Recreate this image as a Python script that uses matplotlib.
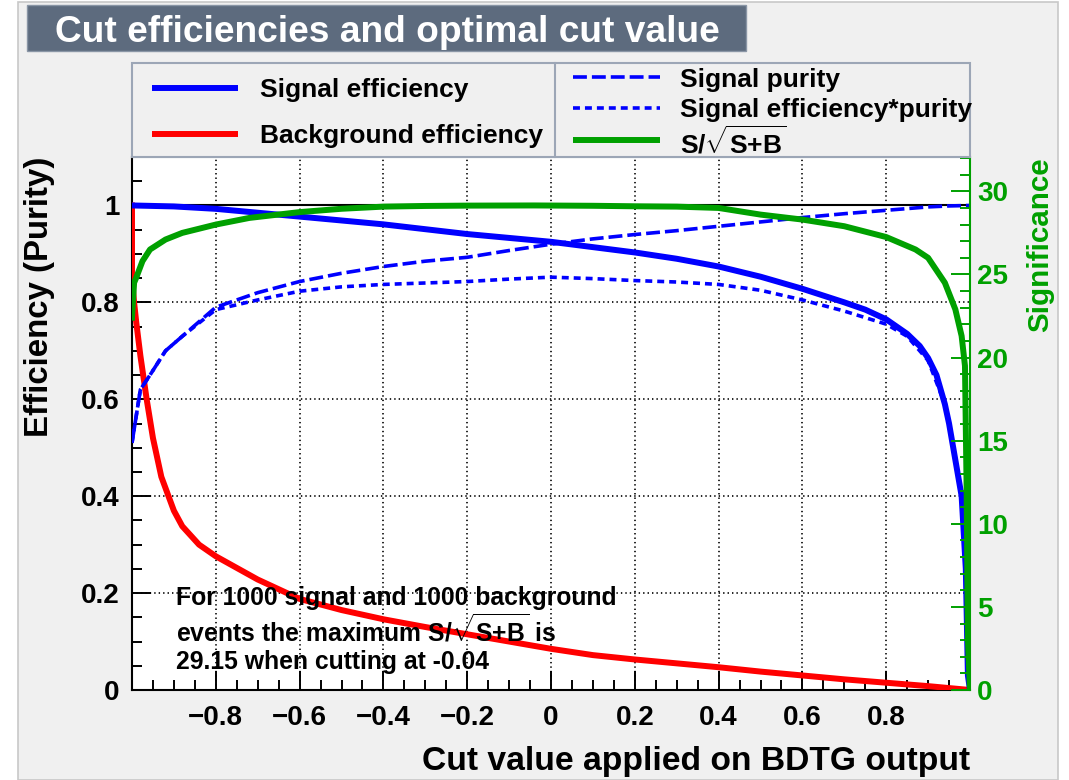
import matplotlib
matplotlib.use("Agg")
import matplotlib.pyplot as plt
from matplotlib.patches import Rectangle
from matplotlib.lines import Line2D
from matplotlib.ticker import MultipleLocator, FixedLocator

plt.rcParams['font.family'] = ['Liberation Sans', 'DejaVu Sans']
plt.rcParams['font.weight'] = 'bold'
plt.rcParams['mathtext.fontset'] = 'custom'
plt.rcParams['mathtext.rm'] = 'Liberation Sans:bold'
plt.rcParams['mathtext.bf'] = 'Liberation Sans:bold'
plt.rcParams['mathtext.it'] = 'Liberation Sans:bold'
plt.rcParams['lines.scale_dashes'] = False

# ---------------- data ----------------
cut_sig = [-1.0, -0.9, -0.8, -0.7, -0.6, -0.5, -0.4, -0.3, -0.2, -0.1, 0.0, 0.1, 0.2,
           0.3, 0.4, 0.5, 0.6, 0.7, 0.75, 0.8, 0.85, 0.88, 0.9, 0.92, 0.94, 0.95,
           0.96, 0.97, 0.98, 0.99, 0.995, 1.0]
sig_eff = [1.0, 0.998, 0.993, 0.985, 0.977, 0.969, 0.961, 0.951, 0.941, 0.933, 0.925, 0.914, 0.903,
           0.89, 0.874, 0.853, 0.828, 0.80, 0.785, 0.765, 0.735, 0.71, 0.685, 0.65, 0.59, 0.55,
           0.50, 0.45, 0.40, 0.25, 0.03, 0.0]

cut_bkg = [-1.0, -1.0, -0.995, -0.99, -0.98, -0.965, -0.95, -0.93, -0.9, -0.88, -0.84, -0.8,
           -0.7, -0.6, -0.5, -0.4, -0.3, -0.2, -0.1, 0.0, 0.1, 0.2, 0.3, 0.4, 0.5, 0.6, 0.7,
           0.8, 0.9, 0.95, 1.0]
bkg_eff = [1.0, 0.85, 0.80, 0.76, 0.69, 0.60, 0.52, 0.44, 0.37, 0.338, 0.30, 0.276,
           0.228, 0.188, 0.165, 0.146, 0.13, 0.115, 0.10, 0.085, 0.072, 0.063, 0.055, 0.047,
           0.038, 0.030, 0.022, 0.015, 0.008, 0.004, 0.0]

cut_pur = [-1.0, -0.98, -0.957, -0.92, -0.88, -0.8, -0.7, -0.6, -0.5, -0.4, -0.3, -0.2, -0.1,
           0.0, 0.1, 0.2, 0.3, 0.4, 0.5, 0.6, 0.7, 0.8, 0.9, 0.95, 1.0]
purity = [0.51, 0.62, 0.65, 0.70, 0.73, 0.79, 0.82, 0.843, 0.86, 0.874, 0.885, 0.893, 0.907,
          0.92, 0.931, 0.94, 0.948, 0.957, 0.966, 0.975, 0.983, 0.99, 0.997, 0.999, 1.0]

cut_ep = [-1.0, -0.98, -0.957, -0.92, -0.88, -0.8, -0.7, -0.6, -0.5, -0.4, -0.3, -0.2, -0.1,
          0.0, 0.1, 0.2, 0.3, 0.4, 0.5, 0.6, 0.7, 0.8, 0.85, 0.9, 0.94, 0.96, 0.98, 0.99,
          0.995, 1.0]
eff_pur = [0.51, 0.62, 0.65, 0.70, 0.73, 0.785, 0.805, 0.823, 0.832, 0.837, 0.84, 0.843, 0.848,
           0.852, 0.849, 0.845, 0.842, 0.837, 0.825, 0.805, 0.782, 0.755, 0.73, 0.68, 0.59,
           0.50, 0.40, 0.25, 0.03, 0.0]

cut_sgf = [-1.0, -0.995, -0.99, -0.975, -0.957, -0.92, -0.88, -0.8, -0.72, -0.6, -0.5, -0.4,
           -0.3, -0.2, -0.04, 0.1, 0.2, 0.3, 0.4, 0.5, 0.6, 0.7, 0.8, 0.87, 0.9, 0.94, 0.965,
           0.98, 0.988, 0.992, 0.995, 1.0]
signif = [22.4, 24.5, 24.8, 25.8, 26.5, 27.1, 27.5, 28.0, 28.4, 28.75, 28.95, 29.08,
          29.12, 29.14, 29.15, 29.13, 29.1, 29.08, 29.0, 28.6, 28.3, 27.9, 27.25, 26.5, 26.0,
          24.5, 22.9, 21.3, 19.5, 12.0, 3.0, 0.0]

max_signif = 29.15
n_signal = 1000
n_background = 1000
best_cut = -0.04

x_major = [-0.8, -0.6, -0.4, -0.2, 0.0, 0.2, 0.4, 0.6, 0.8]
x_labels = ['\u22120.8', '\u22120.6', '\u22120.4', '\u22120.2', '0', '0.2', '0.4', '0.6', '0.8']
y_major = [0, 0.2, 0.4, 0.6, 0.8, 1.0]
y_labels = ['0', '0.2', '0.4', '0.6', '0.8', '1']
s_major = [0, 5, 10, 15, 20, 25, 30]

# ---------------- style ----------------
W, H = 1069, 780
BLUE = '#0000ff'
RED = '#ff0000'
GREEN = '#00a000'
PANEL = '#f0f0f0'
LEGEDGE = '#9ca6b6'
TITLEBG = '#5d6b7e'
SQRT_SB = r'S/$\sqrt{\mathrm{S{+}B}}$'

def fx(px):
    return px / W

def fy(py):
    return 1 - py / H

fig = plt.figure(figsize=(W / 100, H / 100), dpi=100)
fig.patch.set_facecolor('white')

# canvas panel
fig.add_artist(Rectangle((fx(18), fy(780)), fx(1058) - fx(18), fy(2) - fy(780),
                         transform=fig.transFigure, facecolor=PANEL, edgecolor='#c8c8c8',
                         lw=1.2, zorder=0))
# title box
fig.add_artist(Rectangle((fx(27), fy(51)), fx(746) - fx(27), fy(5) - fy(51),
                         transform=fig.transFigure, facecolor=TITLEBG, edgecolor='#8a96a6',
                         lw=1.0, zorder=1))
fig.text(fx(55), fy(28), 'Cut efficiencies and optimal cut value', color='white',
         fontsize=26.7, fontweight='bold', ha='left', va='center_baseline', zorder=2)

# legend box
fig.add_artist(Rectangle((fx(132), fy(157)), fx(970) - fx(132), fy(63) - fy(157),
                         transform=fig.transFigure, facecolor=PANEL, edgecolor=LEGEDGE,
                         lw=1.5, zorder=1))
fig.add_artist(Line2D([fx(555), fx(555)], [fy(63), fy(157)], transform=fig.transFigure,
                      color=LEGEDGE, lw=1.5, zorder=2))

leg_items = [
    (152, 238, 88, BLUE, '-', 4.3, 'Signal efficiency', 260),
    (152, 238, 134, RED, '-', 4.3, 'Background efficiency', 260),
    (573, 660, 77, BLUE, (0, (10, 3.6)), 2.6, 'Signal purity', 680),
    (573, 660, 108, BLUE, (0, (5, 3.6)), 2.6, 'Signal efficiency*purity', 680),
    (573, 660, 140, GREEN, '-', 4.3, SQRT_SB, 680),
]
for x0, x1, yy, col, ls, lw, lab, tx in leg_items:
    fig.add_artist(Line2D([fx(x0), fx(x1)], [fy(yy), fy(yy)], transform=fig.transFigure,
                          color=col, ls=ls, lw=lw, zorder=3, solid_capstyle='butt'))
    fig.text(fx(tx), fy(yy), lab, fontsize=19, fontweight='bold', ha='left',
             va='center_baseline', zorder=3)

# ---------------- axes ----------------
ax = fig.add_axes([fx(132), fy(690), fx(970) - fx(132), fy(157) - fy(690)])
ax.set_facecolor('white')
ax.set_xlim(-1, 1)
ax.set_ylim(0, 1.1)

ax.xaxis.set_major_locator(FixedLocator(x_major))
ax.xaxis.set_minor_locator(MultipleLocator(0.05))
ax.yaxis.set_major_locator(FixedLocator(y_major))
ax.yaxis.set_minor_locator(MultipleLocator(0.05))
ax.set_xticklabels(x_labels)
ax.set_yticklabels(y_labels)
ax.tick_params(which='major', direction='in', length=14, width=1.4, labelsize=20, top=False,
               right=False)
ax.tick_params(which='minor', direction='in', length=7, width=1.4, top=False, right=False)
ax.tick_params(axis='x', which='major', pad=11)
ax.tick_params(axis='y', which='major', pad=9)
for lbl in ax.get_xticklabels() + ax.get_yticklabels():
    lbl.set_fontweight('bold')

ax.grid(True, which='major', color='black', linestyle=(0, (1.0, 2.2)), lw=1.2)
ax.set_axisbelow(True)

for s in ['left', 'bottom']:
    ax.spines[s].set_color('black')
    ax.spines[s].set_linewidth(1.5)
ax.spines['top'].set_color(LEGEDGE)
ax.spines['top'].set_linewidth(1.5)
ax.spines['right'].set_visible(False)

ax.axhline(1.0, color='black', lw=1.5, zorder=2)

ax.plot(cut_bkg, bkg_eff, color=RED, lw=4.3, zorder=3)
ax.plot(cut_pur, purity, color=BLUE, lw=2.6, ls=(0, (10, 3.6)), zorder=3)
ax.plot(cut_ep, eff_pur, color=BLUE, lw=2.6, ls=(0, (5, 3.6)), zorder=3)
ax.plot(cut_sig, sig_eff, color=BLUE, lw=4.3, zorder=4)

ax2 = ax.twinx()
ax2.set_ylim(0, 1.1 * max_signif)
ax2.plot(cut_sgf, signif, color=GREEN, lw=4.3, zorder=3)
ax2.yaxis.set_major_locator(FixedLocator(s_major))
ax2.yaxis.set_minor_locator(MultipleLocator(1))
ax2.tick_params(which='major', direction='in', length=14, width=1.4, labelsize=20,
                colors=GREEN, pad=5)
ax2.tick_params(which='minor', direction='in', length=7, width=1.4, colors=GREEN)
for lbl in ax2.get_yticklabels():
    lbl.set_fontweight('bold')
for s in ['left', 'top', 'bottom']:
    ax2.spines[s].set_visible(False)
ax2.spines['right'].set_color(GREEN)
ax2.spines['right'].set_linewidth(1.5)

# axis titles
fig.text(fx(40), fy(157), 'Efficiency (Purity)', rotation=90, fontsize=23.8,
         fontweight='bold', ha='center', va='top')
fig.text(fx(970), fy(758), 'Cut value applied on BDTG output', fontsize=24.2,
         fontweight='bold', ha='right', va='center_baseline')
fig.text(fx(1040), fy(157), 'Significance', rotation=90, fontsize=21.3, color=GREEN,
         fontweight='bold', ha='center', va='top')

# annotation (three lines)
note_lines = [
    f'For {n_signal} signal and {n_background} background',
    'events the maximum ' + SQRT_SB + ' is',
    f'{max_signif:.2f} when cutting at {best_cut:.2f}',
]
for line, ypx in zip(note_lines, [595, 628, 660]):
    fig.text(fx(176), fy(ypx), line, fontsize=17.8, fontweight='bold', ha='left',
             va='center_baseline', zorder=5)

fig.savefig('out.png', dpi=100, facecolor='white')
